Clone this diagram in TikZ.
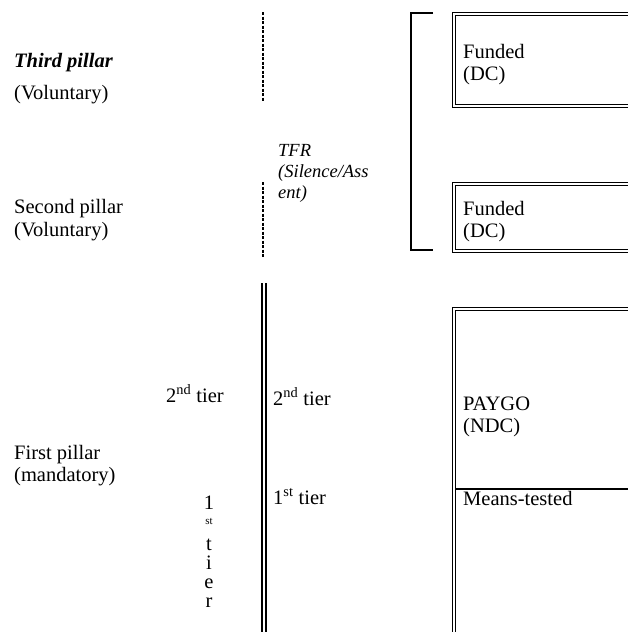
\documentclass[tikz,border=0pt]{standalone}
\usepackage{fontspec}
\setmainfont{Liberation Serif}
\begin{document}
\begin{tikzpicture}[x=1pt,y=-1pt,
  lbl/.style={anchor=base west,inner sep=0pt,font=\fontsize{20.5}{22.5}\selectfont},
  tfr/.style={anchor=base west,inner sep=0pt,font=\fontsize{18.5}{19}\selectfont\itshape},
  vch/.style={anchor=base,inner sep=0pt,font=\fontsize{20.5}{22.5}\selectfont},
  dbl/.style={draw=black,line width=1.4pt,double=white,double distance=1.6pt},
  dash line/.style={line width=1.6pt,dash pattern=on 3pt off 1.5pt},
  solid line/.style={line width=2pt}]
\useasboundingbox (0,0) rectangle (628,632);
\clip (0,0) rectangle (628,632);
% left labels
\node[lbl,font=\fontsize{20.5}{22.5}\selectfont\bfseries\itshape] (p3) at (14,67) {Third pillar};
\node[lbl] (p3v) at (14,99) {(Voluntary)};
\node[lbl] (p2) at (14,213) {Second pillar};
\node[lbl] (p2v) at (14,236) {(Voluntary)};
\node[lbl] (p1) at (14,459) {First pillar};
\node[lbl] (p1m) at (14,481) {(mandatory)};
\node[lbl] (t2l) at (166,402) {2\textsuperscript{nd} tier};
% vertical 1st tier
\node[vch] (v1) at (209,509) {1};
\node[vch,font=\fontsize{11}{12}\selectfont] (vst) at (209,524) {st};
\node[anchor=north,inner sep=0pt,align=center,
      font=\fontsize{20.5}{19}\selectfont] (vtier) at (209,538.5) {t\\i\\e\\r};
% dashed separators
\coordinate (d1a) at (263,12); \coordinate (d1b) at (263,102);
\coordinate (d2a) at (263,182); \coordinate (d2b) at (263,258);
\draw[dash line] (d1a) -- (d1b);
\draw[dash line] (d2a) -- (d2b);
% TFR
\node[tfr] (tfr1) at (278,156) {TFR};
\node[tfr] (tfr2) at (278,177) {(Silence/Ass};
\node[tfr] (tfr3) at (278,198) {ent)};
% bracket
\coordinate (ba) at (433,13); \coordinate (bb) at (411,13);
\coordinate (bc) at (411,250); \coordinate (bd) at (433,250);
\draw[solid line] (ba) -- (bb) -- (bc) -- (bd);
% funded boxes
\draw[dbl] (454,14) rectangle (650,106);
\node[lbl] (f1) at (463,58) {Funded};
\node[lbl] (f1b) at (463,80.5) {(DC)};
\draw[dbl] (454,184) rectangle (650,251);
\node[lbl] (f2) at (463,215) {Funded};
\node[lbl] (f2b) at (463,237.5) {(DC)};
% double vertical line
\coordinate (va1) at (261.5,283); \coordinate (vb1) at (261.5,640);
\coordinate (va2) at (265.5,283); \coordinate (vb2) at (265.5,640);
\draw[line width=2pt] (va1) -- (vb1);
\draw[line width=2pt] (va2) -- (vb2);
\node[lbl] (t2r) at (273,405) {2\textsuperscript{nd} tier};
\node[lbl] (t1r) at (273,504) {1\textsuperscript{st} tier};
% PAYGO box
\draw[dbl] (454,309) rectangle (650,660);
\coordinate (ha) at (455.5,489); \coordinate (hb) at (640,489);
\draw[line width=1.8pt] (ha) -- (hb);
\node[lbl] (pg) at (463,410) {PAYGO};
\node[lbl] (pgb) at (463,432.5) {(NDC)};
\node[lbl] (mt) at (463,505) {Means-tested};
\end{tikzpicture}
\end{document}
